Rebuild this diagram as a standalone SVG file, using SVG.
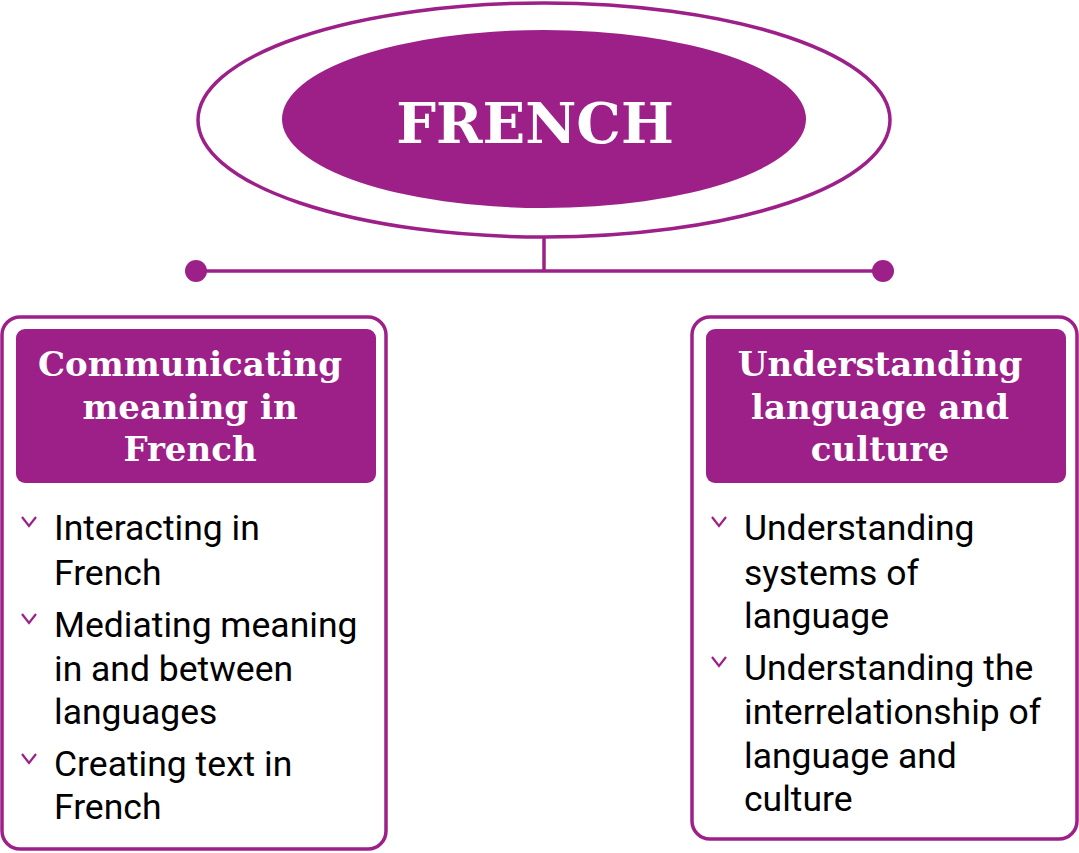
<svg xmlns="http://www.w3.org/2000/svg" width="1079" height="853" viewBox="0 0 1079 853">
<style>
.line{stroke:#9d2089;stroke-width:3.5;fill:none}
.fill{fill:#9d2089}
.head{font-family:"DejaVu Serif","Liberation Serif",serif;font-weight:bold;fill:#fff;text-anchor:middle}
.body{font-family:Roboto,"Liberation Sans",sans-serif;font-size:35.5px;fill:#000}
.bul{stroke:#9d2089;stroke-width:2.2;fill:none}
</style>
<defs>
<path id="chev" d="M0 0 L7 9 L14 0" class="bul"/>
</defs>
<rect width="1079" height="853" fill="#fff"/>
<g id="connectors">
<line x1="544" y1="237" x2="544" y2="271" class="line"/>
<line x1="196" y1="271" x2="883" y2="271" class="line"/>
<circle cx="196" cy="271" r="11" class="fill"/>
<circle cx="883" cy="271" r="11" class="fill"/>
</g>
<g id="french">
<ellipse cx="544" cy="120" rx="346" ry="117" class="line"/>
<ellipse cx="544" cy="119" rx="262" ry="89" class="fill"/>
<text x="535" y="143" class="head" font-size="56">FRENCH</text>
</g>
<g id="communicating">
<rect x="2" y="317" width="384" height="532" rx="18" class="line"/>
<rect x="16" y="329" width="360" height="154" rx="9" class="fill"/>
<text class="head" font-size="34"><tspan x="190" y="376">Communicating</tspan><tspan x="190" y="419">meaning in</tspan><tspan x="190" y="461">French</tspan></text>
<use href="#chev" x="22" y="517"/>
<use href="#chev" x="22" y="614"/>
<use href="#chev" x="22" y="754"/>
<text class="body"><tspan x="54" y="540">Interacting in</tspan><tspan x="54" y="585">French</tspan><tspan x="54" y="637">Mediating meaning</tspan><tspan x="54" y="681">in and between</tspan><tspan x="54" y="724">languages</tspan><tspan x="54" y="776">Creating text in</tspan><tspan x="54" y="819">French</tspan></text>
</g>
<g id="understanding">
<rect x="692" y="317" width="385" height="522" rx="18" class="line"/>
<rect x="706" y="329" width="360" height="154" rx="9" class="fill"/>
<text class="head" font-size="34"><tspan x="880" y="376">Understanding</tspan><tspan x="880" y="419">language and</tspan><tspan x="880" y="461">culture</tspan></text>
<use href="#chev" x="712" y="517"/>
<use href="#chev" x="712" y="657"/>
<text class="body"><tspan x="744" y="540">Understanding</tspan><tspan x="744" y="585">systems of</tspan><tspan x="744" y="628">language</tspan><tspan x="744" y="680">Understanding the</tspan><tspan x="744" y="724">interrelationship of</tspan><tspan x="744" y="768">language and</tspan><tspan x="744" y="811">culture</tspan></text>
</g>
</svg>
